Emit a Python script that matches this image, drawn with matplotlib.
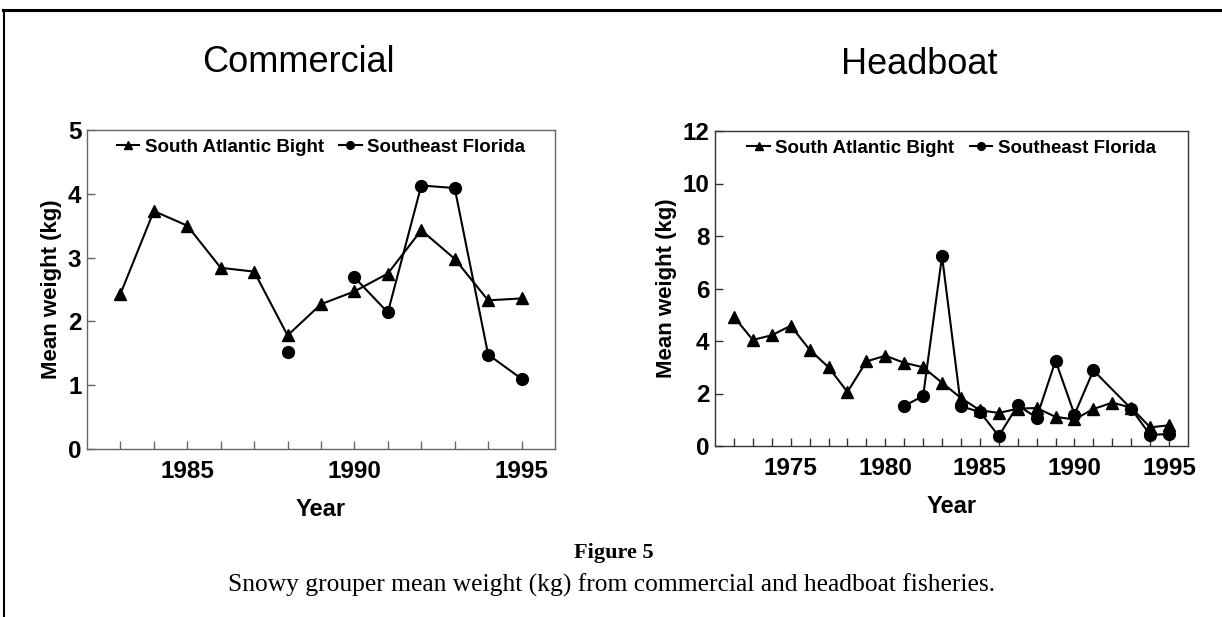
import numpy as np
import matplotlib
matplotlib.use("Agg")
import matplotlib.pyplot as plt
from matplotlib.lines import Line2D

# ---------------- data ----------------
years_comm = [1983, 1984, 1985, 1986, 1987, 1988, 1989, 1990, 1991, 1992, 1993, 1994, 1995]
sab_comm = [2.43, 3.73, 3.50, 2.84, 2.78, 1.78, 2.27, 2.47, 2.75, 3.43, 2.98, 2.33, 2.36]
years_sef_comm = [1988, 1989, 1990, 1991, 1992, 1993, 1994, 1995]
sef_comm = [1.52, np.nan, 2.69, 2.14, 4.13, 4.09, 1.48, 1.10]

years_head = [1972, 1973, 1974, 1975, 1976, 1977, 1978, 1979, 1980, 1981, 1982, 1983,
              1984, 1985, 1986, 1987, 1988, 1989, 1990, 1991, 1992, 1993, 1994, 1995]
sab_head = [4.92, 4.04, 4.22, 4.58, 3.67, 3.00, 2.06, 3.22, 3.44, 3.17, 3.00, 2.41,
            1.83, 1.36, 1.26, 1.42, 1.45, 1.11, 1.01, 1.41, 1.65, 1.46, 0.71, 0.79]
years_sef_head = [1981, 1982, 1983, 1984, 1985, 1986, 1987, 1988, 1989, 1990, 1991, 1993, 1994, 1995]
sef_head = [1.53, 1.90, 7.23, 1.51, 1.30, 0.38, 1.55, 1.08, 3.25, 1.20, 2.88, 1.42, 0.42, 0.46]

labels = ["South Atlantic Bight", "Southeast Florida"]
panel_titles = ["Commercial", "Headboat"]
x_label = "Year"
y_label = "Mean weight (kg)"
caption_title = "Figure 5"
caption_text = "Snowy grouper mean weight (kg) from commercial and headboat fisheries."

# ---------------- fonts ----------------
SANS = "Liberation Sans"
SERIF = "Liberation Serif"
plt.rcParams["font.family"] = [SANS, "DejaVu Sans"]

fig = plt.figure(figsize=(12.22, 6.17), dpi=100)

ax_pos = [
    [87 / 1222, 1 - 449 / 617, (555 - 87) / 1222, (449 - 130) / 617],
    [715 / 1222, 1 - 446 / 617, (1188 - 715) / 1222, (446 - 131) / 617],
]
xlims = [(1982, 1996), (1971, 1996)]
ylims = [(0, 5), (0, 12)]
yticks = [np.arange(0, 6, 1), np.arange(0, 13, 2)]
xticks = [np.arange(1983, 1996), np.arange(1972, 1996)]
series = [
    (years_comm, sab_comm, years_sef_comm, sef_comm),
    (years_head, sab_head, years_sef_head, sef_head),
]
title_xy = [(298, 63), (919, 64)]
spine_cols = ["#666666", "#333333"]

for i in range(2):
    ax = fig.add_axes(ax_pos[i])
    yx, ys, yx2, ys2 = series[i]
    ax.plot(yx, ys, color="black", lw=1.5, marker="^", ms=8, label=labels[0])
    ax.plot(yx2, ys2, color="black", lw=1.5, marker="o", ms=8.5, label=labels[1])
    ax.set_xlim(*xlims[i])
    ax.set_ylim(*ylims[i])
    ax.set_xticks(xticks[i])
    ax.set_xticklabels([str(y) if y % 5 == 0 else "" for y in xticks[i]])
    ax.set_yticks(yticks[i])
    ax.tick_params(axis="both", direction="in", length=6, width=1, color=spine_cols[i])
    ax.tick_params(axis="x", pad=8)
    ax.tick_params(axis="y", pad=4)
    for lab in ax.get_xticklabels():
        lab.set_fontsize(17.5)
        lab.set_fontweight("bold")
    for lab in ax.get_yticklabels():
        lab.set_fontsize(17.5)
        lab.set_fontweight("bold")
    for s in ax.spines.values():
        s.set_color(spine_cols[i])
        s.set_linewidth(1.0)
    ax.set_xlabel(x_label, fontsize=17, fontweight="bold", labelpad=11)
    ax.set_ylabel(y_label, fontsize=16, fontweight="bold", labelpad=4)
    ax.legend(loc="upper center", ncol=2, frameon=False,
              prop={"weight": "bold", "size": 13.5},
              handlelength=1.2, handletextpad=0.3, columnspacing=0.8,
              markerscale=0.65, borderaxespad=0.05)
    tx, ty = title_xy[i]
    fig.text(tx / 1222, 1 - ty / 617, panel_titles[i], fontsize=26,
             ha="center", va="center")

# caption
fig.text(614 / 1222, 1 - 553 / 617, caption_title, fontsize=16, fontweight="bold",
         family=[SERIF, "DejaVu Serif"], ha="center", va="center")
fig.text(612 / 1222, 1 - 585 / 617, caption_text, fontsize=18.4,
         family=[SERIF, "DejaVu Serif"], ha="center", va="center")

# page frame lines
fig.add_artist(Line2D([3 / 1222, 1], [1 - 10 / 617] * 2, color="black", lw=2.2,
                      transform=fig.transFigure))
fig.add_artist(Line2D([4 / 1222] * 2, [0, 1 - 10 / 617], color="black", lw=1.5,
                      transform=fig.transFigure))

fig.savefig("out.png", dpi=100)
